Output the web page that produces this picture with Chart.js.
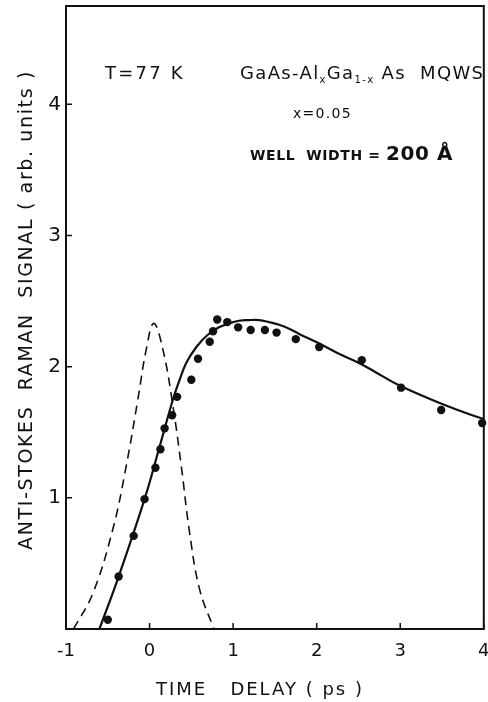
<!DOCTYPE html>
<html>
<head>
<meta charset="utf-8">
<script src="https://cdn.jsdelivr.net/npm/chart.js@4.4.1/dist/chart.umd.min.js"></script>
<style>
html,body{margin:0;padding:0;background:#fff;}
#wrap{position:relative;width:488px;height:702px;}
</style>
</head>
<body>
<div id="wrap"><canvas id="raman"></canvas></div>
<script>
// measured anti-Stokes signal (dots)
const delayPts  = [-0.50,-0.37,-0.19,-0.06,0.07,0.13,0.18,0.27,0.33,0.50,0.58,0.72,0.76,0.81,0.93,1.06,1.21,1.38,1.52,1.75,2.03,2.54,3.01,3.49,3.98];
const signalPts = [0.07,0.40,0.71,0.99,1.23,1.37,1.53,1.63,1.77,1.90,2.06,2.19,2.27,2.36,2.34,2.30,2.28,2.28,2.26,2.21,2.15,2.05,1.84,1.67,1.57];

// fitted curve (solid)
const fitDelay  = [-0.60,-0.37,-0.06,0.12,0.28,0.36,0.44,0.56,0.69,0.83,0.95,1.07,1.19,1.31,1.43,1.55,1.67,1.79,2.02,2.26,2.50,2.70,2.98,3.37,3.77,4.00];
const fitSignal = [0.00,0.40,0.99,1.39,1.75,1.90,2.03,2.15,2.24,2.30,2.33,2.35,2.355,2.355,2.34,2.32,2.29,2.25,2.18,2.10,2.03,1.96,1.86,1.75,1.65,1.60];

// laser pulse profile (dashed)
const pulseDelay  = [-0.91,-0.68,-0.44,-0.28,-0.14,-0.04,0.05,0.16,0.28,0.38,0.48,0.60,0.77];
const pulseSignal = [0.00,0.27,0.76,1.24,1.75,2.13,2.33,2.13,1.70,1.24,0.73,0.30,0.00];

const xTicks = [-1,0,1,2,3,4];
const yTicks = [1,2,3,4];

const FONT = '"DejaVu Sans", sans-serif';
const INK = '#111';

const pairs = (xs, ys) => xs.map((v, i) => ({x: v, y: ys[i]}));

// draws text pieces one after another (for subscripts / mixed sizes)
function drawRun(ctx, parts, x0, base, spacing) {
  let cx = x0;
  ctx.letterSpacing = (spacing || 0) + 'px';
  parts.forEach(p => {
    ctx.font = (p.weight || 'normal') + ' ' + p.size + 'px ' + FONT;
    ctx.fillText(p.t, cx, base + (p.dy || 0));
    cx += ctx.measureText(p.t).width;
  });
  ctx.letterSpacing = '0px';
}

const decor = {
  id: 'decor',
  afterDatasetsDraw(chart) {
    const {ctx, chartArea: a, scales: {x, y}} = chart;
    ctx.save();
    ctx.strokeStyle = INK;
    ctx.fillStyle = INK;
    ctx.lineWidth = 2;
    ctx.strokeRect(a.left, a.top, a.right - a.left, a.bottom - a.top);

    // inward tick marks
    ctx.lineWidth = 1.5;
    ctx.beginPath();
    xTicks.forEach(v => {
      const px = x.getPixelForValue(v);
      ctx.moveTo(px, a.bottom); ctx.lineTo(px, a.bottom - 6);
    });
    yTicks.forEach(v => {
      const py = y.getPixelForValue(v);
      ctx.moveTo(a.left, py); ctx.lineTo(a.left + 6, py);
    });
    ctx.stroke();

    // annotations
    ctx.textAlign = 'left';
    ctx.textBaseline = 'alphabetic';
    drawRun(ctx, [{t: 'T=77 K', size: 18}], a.left + 39, a.top + 73, 2.2);
    drawRun(ctx, [
      {t: 'GaAs-Al', size: 18},
      {t: 'x', size: 10, dy: 4},
      {t: 'Ga', size: 18},
      {t: '1-x', size: 10, dy: 4},
      {t: ' As  MQWS', size: 18}
    ], a.left + 174, a.top + 73, 1.35);
    drawRun(ctx, [{t: 'x=0.05', size: 14}], a.left + 227, a.top + 112, 1.3);
    drawRun(ctx, [
      {t: 'WELL  WIDTH = ', size: 14, weight: 'bold'},
      {t: '200 Å', size: 20, weight: 'bold'}
    ], a.left + 184, a.top + 154, 0.6);

    // axis titles
    ctx.font = '18px ' + FONT;
    ctx.textAlign = 'center';
    ctx.letterSpacing = '2px';
    ctx.fillText('TIME   DELAY ( ps )', 260, 695);

    ctx.translate(27, 310);
    ctx.rotate(-Math.PI / 2);
    ctx.font = '19px ' + FONT;
    ctx.textBaseline = 'middle';
    const yTitle = 'ANTI-STOKES  RAMAN  SIGNAL ( arb. units )';
    ctx.letterSpacing = '0px';
    const w = ctx.measureText(yTitle).width;
    ctx.letterSpacing = ((480 - w) / yTitle.length).toFixed(2) + 'px';
    ctx.fillText(yTitle, 0, 0);
    ctx.restore();
  }
};

new Chart(document.getElementById('raman'), {
  type: 'scatter',
  data: {
    datasets: [
      {
        label: 'pulse',
        data: pairs(pulseDelay, pulseSignal),
        showLine: true,
        borderColor: INK,
        borderWidth: 1.6,
        borderDash: [9, 6],
        pointRadius: 0,
        tension: 0.4
      },
      {
        label: 'fit',
        data: pairs(fitDelay, fitSignal),
        showLine: true,
        borderColor: INK,
        borderWidth: 2.2,
        pointRadius: 0,
        tension: 0.4
      },
      {
        label: 'signal',
        data: pairs(delayPts, signalPts),
        pointRadius: 4.2,
        backgroundColor: INK,
        borderWidth: 0,
        clip: false
      }
    ]
  },
  options: {
    responsive: true,
    maintainAspectRatio: false,
    animation: false,
    layout: {padding: {top: 6, right: 2, left: 0, bottom: 0}},
    plugins: {legend: {display: false}, tooltip: {enabled: false}},
    scales: {
      x: {
        type: 'linear', min: -1, max: 4,
        afterFit(s) { s.height = 73; s.paddingLeft = 0; s.paddingRight = 0; },
        grid: {display: false, drawTicks: false},
        border: {display: false},
        ticks: {
          stepSize: 1, color: INK, padding: 12,
          font: {family: FONT, size: 18},
          callback: v => xTicks.includes(v) ? v : ''
        }
      },
      y: {
        type: 'linear', min: 0, max: 4.75,
        afterFit(s) { s.width = 66; s.paddingTop = 0; s.paddingBottom = 0; },
        grid: {display: false, drawTicks: false},
        border: {display: false},
        ticks: {
          stepSize: 1, color: INK, padding: 5,
          font: {family: FONT, size: 20},
          callback: v => yTicks.includes(v) ? v : ''
        }
      }
    }
  },
  plugins: [decor]
});
</script>
</body>
</html>
